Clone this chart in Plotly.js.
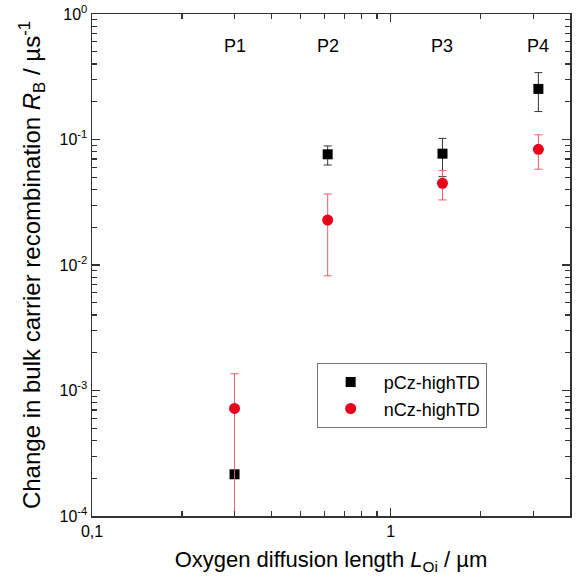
<!DOCTYPE html>
<html><head><meta charset="utf-8">
<script src="https://cdn.plot.ly/plotly-3.0.1.min.js"></script>
<style>body{margin:0;background:#fff}#plot{width:578px;height:583px}</style>
</head><body><div id="plot"></div>
<script>
var positions = ["P1", "P2", "P3", "P4"];
var diffLength = [0.30, 0.615, 1.49, 3.12];

var pCz = [2.15e-4, 0.0762, 0.0771, 0.253];
var pCzErrPlus = [0, 0.0126, 0.025, 0.088];
var pCzErrMinus = [0, 0.0136, 0.0265, 0.086];

var nCz = [7.2e-4, 0.0228, 0.0448, 0.0835];
var nCzErrPlus = [6.4e-4, 0.014, 0.0117, 0.0255];
var nCzErrMinus = [7.2e-4, 0.0146, 0.0118, 0.0255];

var yTickVals = [1e-4, 1e-3, 1e-2, 1e-1, 1];
var yTickText = ["10<sup>-4</sup>", "10<sup>-3</sup>", "10<sup>-2</sup>", "10<sup>-1</sup>", "10<sup>0</sup>"];
var xTickVals = [0.1, 1];
var xTickText = ["0,1", "1"];

function minorVals(lo, hi) {
  var v = [];
  for (var d = lo; d < hi; d++) for (var k = 2; k <= 9; k++) v.push(k * Math.pow(10, d));
  return v;
}

var traces = [
  {
    x: diffLength, y: pCz, name: "pCz-highTD", type: "scatter", mode: "markers",
    marker: {symbol: "square", size: 10, color: "#000000"},
    error_y: {type: "data", symmetric: false, array: pCzErrPlus, arrayminus: pCzErrMinus,
      color: "#333333", thickness: 1, width: 4}
  },
  {
    x: diffLength, y: nCz, name: "nCz-highTD", type: "scatter", mode: "markers",
    marker: {symbol: "circle", size: 11, color: "#e8001c"},
    error_y: {type: "data", symmetric: false, array: nCzErrPlus, arrayminus: nCzErrMinus,
      color: "#ee5a66", thickness: 1, width: 4}
  }
];

var annotations = positions.map(function (p, i) {
  return {x: Math.log10(diffLength[i]), y: 0.936, xref: "x", yref: "paper", yanchor: "middle",
    text: p, showarrow: false, font: {size: 18, color: "#000"}};
});

var axisCommon = {
  type: "log", showgrid: false, zeroline: false, showline: true, linecolor: "#333",
  linewidth: 1.5, mirror: "ticks", ticks: "inside", ticklen: 8, tickwidth: 1.2,
  tickcolor: "#333", tickfont: {size: 16, color: "#000"}, tickmode: "array"
};

var layout = {
  width: 578, height: 583,
  margin: {l: 92, r: 8, t: 14, b: 67},
  paper_bgcolor: "#fff", plot_bgcolor: "#fff",
  font: {family: "Liberation Sans, Arial, sans-serif", color: "#000"},
  showlegend: true,
  legend: {x: 0.47, y: 0.305, xanchor: "left", yanchor: "top", bgcolor: "#fff",
    bordercolor: "#777", borderwidth: 1, font: {size: 18}, itemwidth: 56},
  xaxis: Object.assign({}, axisCommon, {
    range: [-1, 0.6], tickvals: xTickVals, ticktext: xTickText,
    minor: {ticks: "inside", ticklen: 5, tickcolor: "#333", tickmode: "array", tickvals: minorVals(-1, 1)},
    title: {text: "Oxygen diffusion length <i>L</i><sub>Oi</sub> / µm", font: {size: 22}, standoff: 13}
  }),
  yaxis: Object.assign({}, axisCommon, {
    range: [-4, 0], tickvals: yTickVals, ticktext: yTickText,
    minor: {ticks: "inside", ticklen: 5, tickcolor: "#333", tickmode: "array", tickvals: minorVals(-4, 0)},
    title: {text: "Change in bulk carrier recombination <i>R</i><sub>B</sub> / µs<sup>-1</sup>", font: {size: 24}, standoff: 12}
  }),
  annotations: annotations
};

Plotly.newPlot("plot", traces, layout, {displayModeBar: false, staticPlot: true});
</script></body></html>
